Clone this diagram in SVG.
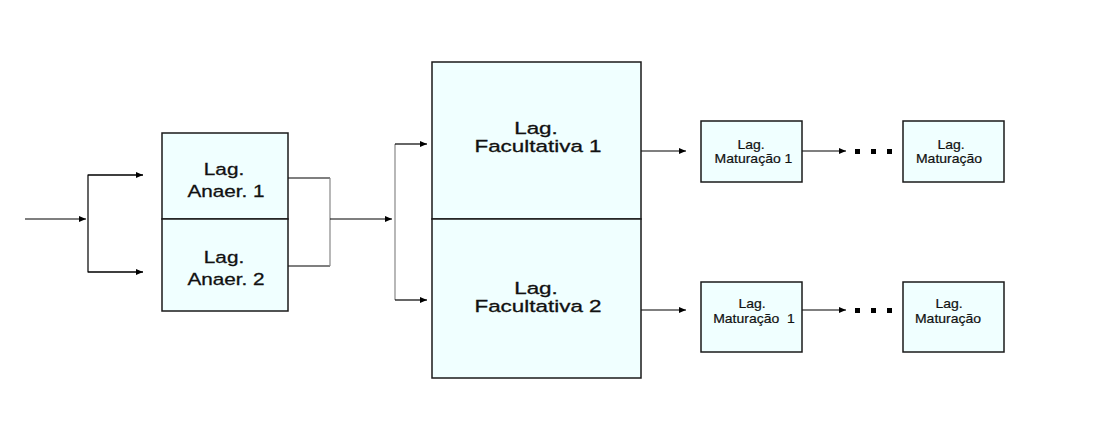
<svg xmlns="http://www.w3.org/2000/svg" width="1100" height="440" viewBox="0 0 1100 440">
<defs>
<marker id="ah" markerWidth="7" markerHeight="6" refX="7" refY="3" orient="auto" markerUnits="userSpaceOnUse">
<path d="M0,0 L7,3 L0,6 z" fill="#000"/>
</marker>
<style>
.box{fill:#F0FFFF;stroke:#1a1a1a;stroke-width:1.5}
.t{font-family:"Liberation Sans",Arial,sans-serif;fill:#111;stroke:#111;stroke-width:0.3;text-anchor:middle}
.big{font-size:17px}
.sm{font-size:12.5px;stroke-width:0.2}
.ln{fill:none;stroke:#000;stroke-width:1.2}
.gr{fill:none;stroke:#888;stroke-width:1.2}
.arr{fill:none;stroke:#000;stroke-width:1.2;marker-end:url(#ah)}
</style>
</defs>
<rect width="1100" height="440" fill="#fff"/>

<g id="connectors">
<line class="arr" x1="25" y1="219" x2="86" y2="219"/>
<polyline class="ln" points="143,175 88,175 88,272 143,272"/>
<line class="arr" x1="88" y1="175" x2="143" y2="175"/>
<line class="arr" x1="88" y1="272" x2="143" y2="272"/>
<line class="ln" x1="288" y1="178" x2="330" y2="178"/>
<line class="ln" x1="288" y1="266" x2="330" y2="266"/>
<line class="gr" x1="330" y1="178" x2="330" y2="266"/>
<line class="arr" x1="330" y1="219" x2="392" y2="219"/>
<line class="gr" x1="395" y1="144" x2="395" y2="300"/>
<line class="arr" x1="395" y1="144" x2="427" y2="144"/>
<line class="arr" x1="395" y1="300" x2="427" y2="300"/>
<line class="arr" x1="641" y1="151" x2="686" y2="151"/>
<line class="arr" x1="641" y1="310" x2="686" y2="310"/>
<line class="arr" x1="802" y1="151" x2="846" y2="151"/>
<line class="arr" x1="802" y1="310" x2="846" y2="310"/>
<g fill="#000">
<rect x="855" y="149" width="5" height="5"/>
<rect x="871" y="149" width="5" height="5"/>
<rect x="887" y="149" width="5" height="5"/>
<rect x="855" y="308" width="5" height="5"/>
<rect x="871" y="308" width="5" height="5"/>
<rect x="887" y="308" width="5" height="5"/>
</g>
</g>

<g id="anaer1">
<rect class="box" x="162" y="133" width="126" height="86"/>
<text class="t big" transform="translate(224,175) scale(1.22,1)">Lag.</text>
<text class="t big" transform="translate(226,197) scale(1.22,1)">Anaer. 1</text>
</g>
<g id="anaer2">
<rect class="box" x="162" y="219" width="126" height="92"/>
<text class="t big" transform="translate(224,263) scale(1.22,1)">Lag.</text>
<text class="t big" transform="translate(226,285) scale(1.22,1)">Anaer. 2</text>
</g>

<g id="facultativa1">
<rect class="box" x="432" y="62" width="209" height="157"/>
<text class="t big" transform="translate(536,134) scale(1.32,1)">Lag.</text>
<text class="t big" transform="translate(538,151.5) scale(1.32,1)">Facultativa 1</text>
</g>
<g id="facultativa2">
<rect class="box" x="432" y="219" width="209" height="159"/>
<text class="t big" transform="translate(536,294) scale(1.32,1)">Lag.</text>
<text class="t big" transform="translate(538,311.5) scale(1.32,1)">Facultativa 2</text>
</g>

<g id="maturacao1a">
<rect class="box" x="701" y="121" width="101" height="61"/>
<text class="t sm" transform="translate(751,148.5) scale(1.12,1)">Lag.</text>
<text class="t sm" transform="translate(753.5,163) scale(1.12,1)">Maturação 1</text>
</g>
<g id="maturacaoNa">
<rect class="box" x="903" y="121" width="101" height="61"/>
<text class="t sm" transform="translate(951,148.5) scale(1.12,1)">Lag.</text>
<text class="t sm" transform="translate(949,163) scale(1.12,1)">Maturação</text>
</g>

<g id="maturacao1b">
<rect class="box" x="701" y="282" width="101" height="70"/>
<text class="t sm" transform="translate(752,308) scale(1.12,1)">Lag.</text>
<text class="t sm" transform="translate(754,323) scale(1.12,1)" xml:space="preserve">Maturação  1</text>
</g>
<g id="maturacaoNb">
<rect class="box" x="903" y="282" width="101" height="70"/>
<text class="t sm" transform="translate(949,308) scale(1.12,1)">Lag.</text>
<text class="t sm" transform="translate(948,323) scale(1.12,1)">Maturação</text>
</g>
</svg>
